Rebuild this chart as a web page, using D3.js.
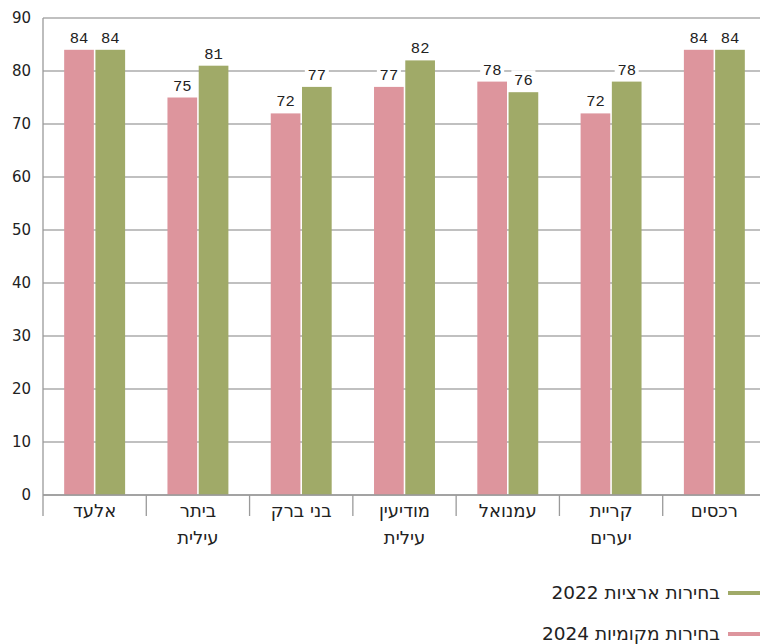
<!DOCTYPE html>
<html>
<head>
<meta charset="utf-8">
<script src="https://cdn.jsdelivr.net/npm/d3@7"></script>
<style>
  body { margin: 0; background: #fff; }
  svg { display: block; font-family: "DejaVu Sans", sans-serif; }
</style>
</head>
<body>
<svg width="760" height="644"></svg>
<script>
// chart data
var categories = [["אלעד"], ["ביתר", "עילית"], ["בני ברק"], ["מודיעין", "עילית"], ["עמנואל"], ["קריית", "יערים"], ["רכסים"]];
var seriesNames = ["בחירות מקומיות 2024", "בחירות ארציות 2022"];
var local2024 = [84, 75, 72, 77, 78, 72, 84];
var national2022 = [84, 81, 77, 82, 76, 78, 84];
var yTicks = [0, 10, 20, 30, 40, 50, 60, 70, 80, 90];

var colors = ["#dd959d", "#a0aa68"];

var svg = d3.select("svg"),
    width = +svg.attr("width"),
    height = +svg.attr("height");

var plotLeft = 43, plotTop = 18, plotBottom = 495, plotRight = 766;

var x0 = d3.scaleBand()
    .domain(d3.range(categories.length))
    .range([plotLeft, plotRight])
    .paddingInner(0.41)
    .paddingOuter(0.205);

var x1 = d3.scaleBand()
    .domain([0, 1])
    .range([0, x0.bandwidth()])
    .paddingInner(0.05);

var y = d3.scaleLinear().domain([0, 90]).range([plotBottom, plotTop]);

// gridlines
svg.append("g")
    .selectAll("line")
    .data(yTicks)
    .join("line")
    .attr("x1", plotLeft)
    .attr("x2", width)
    .attr("y1", d => y(d))
    .attr("y2", d => y(d))
    .attr("stroke", "#ababab")
    .attr("stroke-width", 1.3);

// y labels
svg.append("g")
    .selectAll("text")
    .data(yTicks)
    .join("text")
    .attr("x", 31)
    .attr("y", d => y(d))
    .attr("dy", "0.35em")
    .attr("text-anchor", "end")
    .attr("font-size", "15px")
    .attr("fill", "#222")
    .text(d => d);

// bars
var rows = categories.map((c, i) => ({i: i, vals: [local2024[i], national2022[i]]}));

var group = svg.append("g")
    .selectAll("g")
    .data(rows)
    .join("g")
    .attr("transform", d => `translate(${x0(d.i)},0)`);

group.selectAll("rect")
    .data(d => d.vals.map((v, k) => ({k: k, v: v})))
    .join("rect")
    .attr("x", d => x1(d.k))
    .attr("width", x1.bandwidth())
    .attr("y", d => y(d.v))
    .attr("height", d => y(0) - y(d.v))
    .attr("fill", d => colors[d.k]);

// value labels with white backing
var lab = group.selectAll("g.lab")
    .data(d => d.vals.map((v, k) => ({k: k, v: v})))
    .join("g")
    .attr("class", "lab")
    .attr("transform", d => `translate(${x1(d.k) + x1.bandwidth() / 2},${y(d.v) - 7})`);

lab.append("rect")
    .attr("x", -12)
    .attr("y", -15)
    .attr("width", 24)
    .attr("height", 18)
    .attr("fill", "#fff");

lab.append("text")
    .attr("text-anchor", "middle")
    .attr("font-family", "'Liberation Mono', monospace")
    .attr("font-size", "15.5px")
    .attr("fill", "#222")
    .text(d => d.v);

// axes lines
svg.append("line")
    .attr("x1", plotLeft).attr("x2", plotLeft)
    .attr("y1", plotTop).attr("y2", plotBottom + 21)
    .attr("stroke", "#9a9a9a").attr("stroke-width", 1.3);

svg.append("line")
    .attr("x1", plotLeft).attr("x2", width)
    .attr("y1", plotBottom).attr("y2", plotBottom)
    .attr("stroke", "#9a9a9a").attr("stroke-width", 1.3);

svg.append("g")
    .selectAll("line")
    .data(d3.range(1, categories.length + 1))
    .join("line")
    .attr("x1", d => plotLeft + d * x0.step())
    .attr("x2", d => plotLeft + d * x0.step())
    .attr("y1", plotBottom)
    .attr("y2", plotBottom + 21)
    .attr("stroke", "#9a9a9a").attr("stroke-width", 1.3);

// category labels
svg.append("g")
    .selectAll("text")
    .data(rows)
    .join("text")
    .attr("text-anchor", "middle")
    .attr("font-size", "18px")
    .attr("fill", "#222")
    .attr("transform", d => `translate(${x0(d.i) + x0.bandwidth() / 2},0)`)
    .selectAll("tspan")
    .data(d => categories[d.i])
    .join("tspan")
    .attr("x", 0)
    .attr("y", (d, j) => 517 + j * 27)
    .text(d => d);

// legend
var legend = svg.append("g")
    .selectAll("g")
    .data([1, 0])
    .join("g")
    .attr("transform", (d, j) => `translate(0,${593 + j * 41})`);

legend.append("line")
    .attr("x1", 728).attr("x2", 760)
    .attr("stroke", d => colors[d])
    .attr("stroke-width", 4);

legend.append("text")
    .attr("x", 720)
    .attr("dy", "0.35em")
    .attr("direction", "rtl")
    .attr("text-anchor", "start")
    .attr("font-size", "18.5px")
    .attr("fill", "#222")
    .text(d => seriesNames[d]);
</script>
</body>
</html>
